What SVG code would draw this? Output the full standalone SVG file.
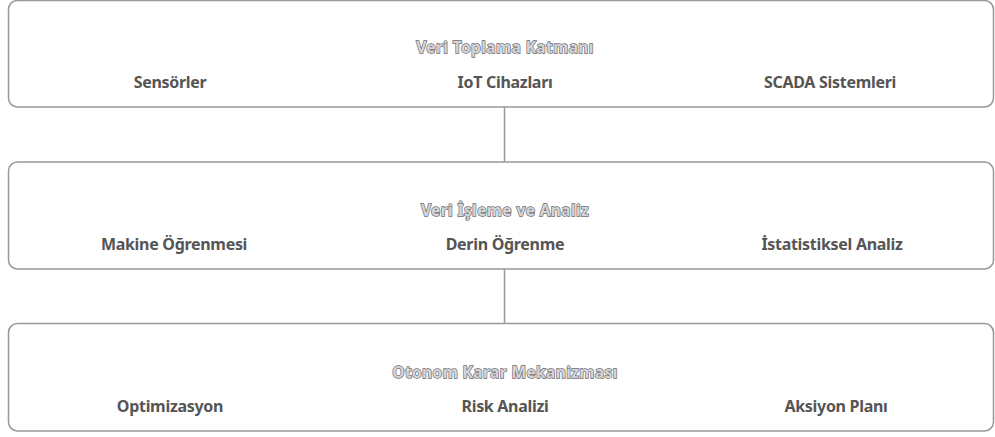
<svg xmlns="http://www.w3.org/2000/svg" width="995" height="437" viewBox="0 0 995 437">
<style>
.box{fill:#fff;stroke:#999;stroke-width:1.5}
.title{font-family:"Noto Sans",sans-serif;font-weight:bold;font-size:15.5px;fill:#d4d4dc;stroke:#6a6a6a;stroke-width:1.3;text-anchor:middle;paint-order:stroke;letter-spacing:0.4px}
.sub{font-family:"Noto Sans",sans-serif;font-weight:bold;font-size:16px;fill:#555;text-anchor:middle;letter-spacing:-0.3px}
.conn{stroke:#999;stroke-width:1.5;fill:none}
</style>
<g id="connectors">
<line class="conn" x1="504.5" y1="107" x2="504.5" y2="162"/>
<line class="conn" x1="504.5" y1="269" x2="504.5" y2="323"/>
</g>
<g id="layer1">
<rect class="box" x="8.5" y="0.5" width="985" height="106.5" rx="9"/>
<text class="title" x="505" y="53">Veri Toplama Katmanı</text>
<text class="sub" x="170" y="88">Sensörler</text>
<text class="sub" x="505" y="88">IoT Cihazları</text>
<text class="sub" x="830" y="88">SCADA Sistemleri</text>
</g>
<g id="layer2">
<rect class="box" x="8.5" y="162" width="985" height="107" rx="9"/>
<text class="title" x="505" y="216">Veri İşleme ve Analiz</text>
<text class="sub" x="174" y="250">Makine Öğrenmesi</text>
<text class="sub" x="505" y="250">Derin Öğrenme</text>
<text class="sub" x="832" y="250">İstatistiksel Analiz</text>
</g>
<g id="layer3">
<rect class="box" x="8.5" y="323.5" width="985" height="107.5" rx="9"/>
<text class="title" x="505" y="378">Otonom Karar Mekanizması</text>
<text class="sub" x="170" y="412">Optimizasyon</text>
<text class="sub" x="505" y="412">Risk Analizi</text>
<text class="sub" x="836" y="412">Aksiyon Planı</text>
</g>
</svg>
